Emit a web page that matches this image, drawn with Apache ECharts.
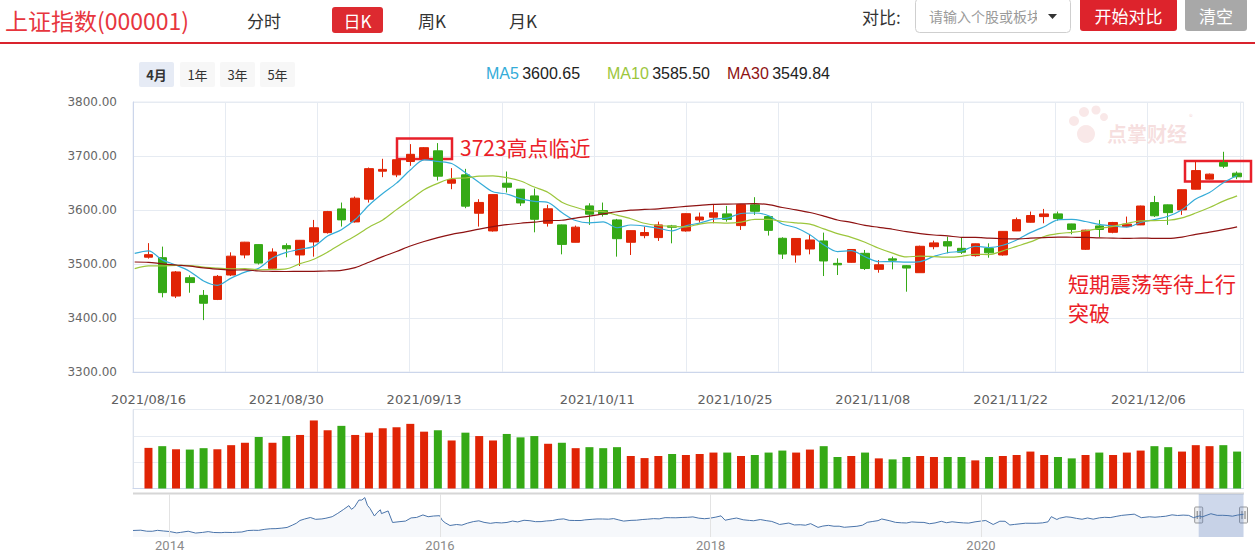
<!DOCTYPE html>
<html><head><meta charset="utf-8">
<script src="https://cdn.jsdelivr.net/npm/echarts@6/dist/echarts.min.js"></script>
<style>html,body{margin:0;padding:0;background:#fff;}#c{width:1255px;height:557px;}</style>
</head><body><div id="c"></div>
<script>
// ---------------- data ----------------
const dates = ['2021/08/13','2021/08/16','2021/08/17','2021/08/18','2021/08/19','2021/08/20','2021/08/23','2021/08/24','2021/08/25','2021/08/26','2021/08/27','2021/08/30','2021/08/31','2021/09/01','2021/09/02','2021/09/03','2021/09/06','2021/09/07','2021/09/08','2021/09/09','2021/09/10','2021/09/13','2021/09/14','2021/09/15','2021/09/16','2021/09/17','2021/09/22','2021/09/23','2021/09/24','2021/09/27','2021/09/28','2021/09/29','2021/09/30','2021/10/08','2021/10/11','2021/10/12','2021/10/13','2021/10/14','2021/10/15','2021/10/18','2021/10/19','2021/10/20','2021/10/21','2021/10/22','2021/10/25','2021/10/26','2021/10/27','2021/10/28','2021/10/29','2021/11/01','2021/11/02','2021/11/03','2021/11/04','2021/11/05','2021/11/08','2021/11/09','2021/11/10','2021/11/11','2021/11/12','2021/11/15','2021/11/16','2021/11/17','2021/11/18','2021/11/19','2021/11/22','2021/11/23','2021/11/24','2021/11/25','2021/11/26','2021/11/29','2021/11/30','2021/12/01','2021/12/02','2021/12/03','2021/12/06','2021/12/07','2021/12/08','2021/12/09','2021/12/10','2021/12/13','2021/12/14'];
const tickLabels = ['2021/08/16','2021/08/30','2021/09/13','2021/10/11','2021/10/25','2021/11/08','2021/11/22','2021/12/06'];

const opens = [null,
 3512.6,3511.7,3440.6,3474.6,3441.9,3434.4,3479.6,3516.7,3535.9,3492.0,
 3534.0,3516.7,3540.8,3558.1,3602.0,3577.9,3620.0,3671.9,3665.1,3689.8,
 3695.4,3709.6,3649.6,3665.1,3594.0,3561.2,3649.6,3638.5,3626.1,3575.4,
 3572.4,3540.2,3607.6,3598.9,3581.6,3540.2,3552.6,3548.9,3570.5,3561.2,
 3581.6,3586.6,3592.8,3571.1,3609.5,3587.8,3547.6,3516.7,3527.8,3542.7,
 3501.2,3503.1,3519.8,3490.1,3509.5,3496.9,3483.9,3532.1,3541.4,3529.0,
 3515.5,3529.0,3516.7,3561.2,3577.3,3587.8,3592.8,3574.2,3527.2,3570.5,
 3558.7,3569.3,3572.4,3613.8,3609.5,3600.2,3638.5,3657.1,3688.0,3668.2];
const closes = [null,
 3517.3,3447.0,3485.3,3465.6,3427.3,3477.1,3514.5,3540.4,3501.7,3522.2,
 3528.2,3543.9,3567.1,3597.0,3581.7,3621.9,3676.6,3675.2,3693.1,3703.1,
 3715.4,3662.6,3656.2,3607.1,3614.0,3628.5,3642.2,3613.1,3582.8,3602.2,
 3536.3,3568.2,3592.2,3591.7,3546.9,3561.8,3558.3,3572.4,3568.1,3593.2,
 3587.0,3594.8,3582.6,3609.9,3597.6,3562.3,3518.4,3547.3,3544.5,3505.6,
 3498.5,3526.9,3491.6,3498.6,3507.0,3492.5,3532.8,3539.1,3533.3,3521.8,
 3537.4,3520.7,3560.4,3582.1,3589.8,3592.7,3584.2,3564.1,3562.7,3563.9,
 3576.9,3573.8,3607.4,3589.3,3595.1,3637.6,3673.0,3666.4,3681.1,3661.5];
const highs = [null,
 3538.6,3532.2,3487.0,3479.0,3451.8,3479.6,3521.6,3541.0,3536.5,3529.0,
 3538.3,3544.5,3581.6,3598.3,3613.8,3624.9,3678.7,3694.8,3694.0,3722.0,
 3716.5,3723.9,3677.5,3676.2,3620.0,3629.0,3671.3,3639.1,3639.7,3609.5,
 3573.0,3571.1,3612.5,3613.8,3583.5,3562.0,3569.3,3578.5,3572.4,3594.0,
 3595.2,3609.5,3607.6,3611.0,3623.7,3589.0,3549.5,3548.0,3555.6,3558.1,
 3510.5,3527.2,3526.0,3507.4,3513.6,3498.1,3534.0,3543.3,3550.7,3548.8,
 3537.8,3538.3,3560.9,3586.0,3597.1,3602.0,3597.1,3574.5,3563.5,3581.6,
 3578.0,3587.8,3608.0,3626.1,3610.0,3638.0,3689.8,3667.5,3707.8,3671.3];
const lows = [null,
 3510.0,3438.2,3436.9,3446.8,3396.1,3433.2,3477.7,3510.5,3499.0,3490.7,
 3512.4,3496.3,3513.6,3556.3,3569.3,3576.7,3613.8,3660.8,3660.8,3681.8,
 3693.0,3654.6,3638.5,3603.3,3569.3,3560.0,3632.3,3607.6,3558.7,3569.3,
 3517.9,3540.0,3572.4,3587.8,3513.6,3516.7,3547.6,3542.7,3538.3,3560.0,
 3576.7,3575.4,3578.5,3563.1,3590.9,3552.6,3509.3,3502.5,3517.9,3477.7,
 3479.6,3502.5,3488.9,3483.9,3490.1,3448.7,3483.9,3527.2,3519.8,3518.5,
 3513.6,3511.7,3515.5,3561.0,3576.7,3575.4,3580.4,3555.0,3526.0,3549.5,
 3556.9,3568.0,3572.0,3587.0,3572.4,3590.9,3638.0,3656.5,3677.5,3657.1];
const ma5 = [3519.6,
 3524.2,3507.6,3498.1,3486.3,3468.5,3460.5,3473.9,3485.0,3492.2,3511.2,
 3521.4,3527.3,3532.6,3551.7,3563.6,3582.3,3608.9,3630.5,3649.7,3674.0,
 3692.7,3689.9,3686.1,3668.9,3651.1,3633.7,3629.6,3621.0,3616.1,3613.8,
 3595.3,3580.5,3576.3,3578.1,3567.1,3572.2,3570.2,3566.2,3561.5,3570.7,
 3575.8,3583.1,3585.1,3593.5,3594.4,3589.4,3574.2,3567.1,3554.0,3535.6,
 3522.9,3524.6,3513.4,3504.2,3504.5,3503.3,3504.5,3514.0,3520.9,3523.9,
 3532.9,3530.5,3534.7,3544.5,3558.1,3569.1,3581.8,3582.6,3578.7,3573.5,
 3570.4,3568.3,3576.9,3582.3,3588.5,3600.6,3620.5,3632.3,3650.6,3663.9];
const ma10 = [3491.3,
 3496.6,3496.5,3497.3,3497.2,3494.1,3492.4,3490.8,3491.6,3489.3,3489.9,
 3491.0,3500.6,3508.8,3522.0,3537.4,3551.9,3568.1,3581.6,3600.7,3618.8,
 3637.5,3649.4,3658.3,3659.3,3662.6,3663.2,3659.8,3653.6,3642.5,3632.5,
 3614.5,3605.1,3598.7,3597.1,3590.5,3583.8,3575.4,3571.3,3569.8,3568.9,
 3574.0,3576.7,3575.7,3577.5,3582.6,3582.6,3578.7,3576.1,3573.8,3565.0,
 3556.2,3549.4,3540.3,3529.1,3520.1,3513.1,3514.6,3513.7,3512.6,3514.2,
 3518.1,3517.5,3524.4,3532.7,3541.0,3551.0,3556.2,3558.7,3561.6,3565.8,
 3569.8,3575.1,3579.8,3580.5,3581.0,3585.5,3594.4,3604.6,3616.5,3626.2];
const ma30 = [3503.7,
 3503.1,3500.3,3498.1,3496.1,3492.8,3490.5,3488.7,3489.1,3487.0,3486.5,
 3486.1,3486.3,3486.5,3487.2,3488.3,3493.4,3503.3,3513.7,3523.1,3533.3,
 3541.7,3548.8,3554.8,3559.5,3564.7,3569.1,3572.9,3575.5,3577.5,3580.3,
 3581.0,3585.0,3588.6,3592.8,3596.8,3599.6,3601.0,3602.1,3604.3,3606.7,
 3608.7,3610.4,3610.9,3611.3,3611.8,3609.8,3604.6,3600.3,3595.4,3588.8,
 3581.5,3577.0,3571.5,3567.9,3564.3,3559.8,3556.2,3553.7,3552.1,3549.4,
 3549.4,3547.8,3546.8,3546.4,3547.9,3548.9,3549.8,3549.5,3549.3,3548.3,
 3548.0,3547.3,3548.1,3547.4,3547.4,3549.9,3555.0,3559.0,3563.5,3568.7];
const volumes = [null,
 3857,4019,3724,3696,3829,3724,4114,4342,4883,4342,
 4978,5083,6460,5529,5947,5083,5301,5719,5814,6137,
 5396,5529,4560,5301,4978,4560,5178,4855,4978,4247,
 4342,3829,3924,3829,3924,3088,2888,3088,3278,3183,
 3278,3411,3411,3088,3183,3411,3601,3411,3696,4019,
 2993,3088,3411,2860,2765,2993,3088,2993,2993,2993,
 2670,2993,3088,3183,3506,3183,2993,2860,3183,3411,
 3183,3411,3601,4019,3924,3506,4114,4019,4114,3506];
const legendNames = ['MA5','MA10','MA30'];
const legendValues = ['3600.65','3585.50','3549.84'];
const rangeButtons = ['4月','1年','3年','5年'];
const navYears = ['2014','2016','2018','2020'];
const navYearDates = ['2014-01-01','2016-01-01','2018-01-01','2020-01-01'];
const navDates = ['2013-09-24','2013-10-15','2013-10-31','2013-11-15','2013-11-29','2013-12-16','2013-12-31','2014-01-20','2014-01-30','2014-02-20','2014-03-12','2014-03-31','2014-04-15','2014-04-30','2014-05-20','2014-05-30','2014-06-20','2014-06-30','2014-07-15','2014-07-31','2014-08-15','2014-08-29','2014-09-15','2014-09-30','2014-10-15','2014-10-31','2014-11-14','2014-11-28','2014-12-09','2014-12-19','2014-12-31','2015-01-16','2015-01-30','2015-02-16','2015-02-27','2015-03-16','2015-03-31','2015-04-15','2015-04-30','2015-05-07','2015-05-15','2015-05-27','2015-06-04','2015-06-12','2015-06-19','2015-06-26','2015-07-08','2015-07-15','2015-07-24','2015-07-27','2015-08-14','2015-08-26','2015-09-15','2015-09-30','2015-10-15','2015-10-30','2015-11-16','2015-11-30','2015-12-15','2015-12-31','2016-01-07','2016-01-15','2016-01-28','2016-02-15','2016-02-29','2016-03-15','2016-03-31','2016-04-15','2016-04-29','2016-05-16','2016-05-31','2016-06-15','2016-06-30','2016-07-15','2016-07-29','2016-08-15','2016-08-31','2016-09-15','2016-09-30','2016-10-14','2016-10-31','2016-11-15','2016-11-30','2016-12-15','2016-12-30','2017-01-16','2017-01-26','2017-02-15','2017-02-28','2017-03-15','2017-03-31','2017-04-14','2017-04-28','2017-05-11','2017-05-31','2017-06-15','2017-06-30','2017-07-14','2017-07-31','2017-08-15','2017-08-31','2017-09-15','2017-09-29','2017-10-16','2017-10-31','2017-11-14','2017-11-30','2017-12-15','2017-12-29','2018-01-15','2018-01-29','2018-02-09','2018-02-28','2018-03-12','2018-03-30','2018-04-16','2018-04-27','2018-05-15','2018-05-31','2018-06-15','2018-06-29','2018-07-06','2018-07-31','2018-08-15','2018-08-31','2018-09-14','2018-09-28','2018-10-18','2018-10-31','2018-11-15','2018-11-30','2018-12-14','2018-12-28','2019-01-04','2019-01-31','2019-02-15','2019-02-28','2019-03-15','2019-03-29','2019-04-08','2019-04-30','2019-05-15','2019-05-31','2019-06-14','2019-06-28','2019-07-15','2019-07-31','2019-08-15','2019-08-30','2019-09-16','2019-09-30','2019-10-15','2019-10-31','2019-11-15','2019-11-29','2019-12-16','2019-12-31','2020-01-14','2020-02-03','2020-02-21','2020-03-06','2020-03-19','2020-03-31','2020-04-30','2020-05-29','2020-06-15','2020-06-30','2020-07-09','2020-07-24','2020-07-31','2020-08-18','2020-08-31','2020-09-15','2020-09-30','2020-10-15','2020-10-30','2020-11-16','2020-11-30','2020-12-15','2020-12-31','2021-01-15','2021-02-18','2021-03-09','2021-03-31','2021-04-15','2021-04-30','2021-05-14','2021-05-31','2021-06-15','2021-06-30','2021-07-15','2021-07-28','2021-08-13','2021-08-20','2021-09-13','2021-09-30','2021-10-15','2021-10-29','2021-11-10','2021-11-24','2021-12-10'];
const navValues = [2207,2233,2141,2135,2220,2160,2116,1991,2033,2139,1975,2033,2105,2026,2009,2039,2024,2048,2069,2201,2226,2217,2311,2363,2373,2420,2478,2683,2857,3108,3235,3376,3210,3247,3310,3449,3748,4084,4441,4112,4308,4941,4947,5166,4478,4192,3507,3805,4070,3725,3965,2927,3005,3053,3338,3382,3606,3445,3510,3539,3125,2900,2656,2746,2688,2864,3004,3078,2938,2850,2917,2887,2930,3054,2979,3125,3085,3002,3005,3063,3100,3207,3250,3118,3104,3104,3159,3212,3242,3241,3223,3276,3155,3052,3117,3133,3192,3222,3273,3251,3361,3354,3349,3378,3393,3430,3317,3266,3307,3410,3523,3129,3259,3326,3169,3111,3082,3192,3095,3022,2847,2747,2876,2705,2725,2681,2821,2486,2603,2668,2588,2593,2494,2514,2585,2682,2941,3021,3091,3244,3078,2938,2899,2882,2979,2943,2933,2815,2886,3031,2905,2991,2929,2891,2871,2984,3050,3106,2746,3039,3034,2702,2750,2860,2852,2890,2985,3450,3196,3310,3438,3396,3295,3218,3332,3225,3346,3392,3367,3473,3566,3675,3360,3441,3399,3447,3490,3615,3556,3591,3565,3362,3516,3427,3715,3568,3572,3547,3492,3593,3666];
const navRange = ['2013-09-24','2021-12-10'];
const navSelected = ['2021-08-11','2021-12-10'];

// ---------------- style ----------------
const RED = '#e02405', GREEN = '#35a916';
const GRIDC = '#e6ebf2', AXISC = '#ccd6eb';
const CN = '"Noto Sans CJK SC","Noto Sans",sans-serif';
const LAT = '"Liberation Sans",Arial,sans-serif';
const DJ = '"DejaVu Sans",sans-serif';
const maColors = ['#35acd8','#9cc63c','#8e1212'];

const candleData = dates.map((d,i)=> opens[i]==null ? '-' : [opens[i], closes[i], lows[i], highs[i]]);
const volData = volumes.map((v,i)=> v==null ? '-' : {value:v, itemStyle:{color: closes[i]>=opens[i]?RED:GREEN}});
const navData = navDates.map((d,i)=>[d, navValues[i]]);

const chart = echarts.init(document.getElementById('c'), null, {renderer:'svg', width:1255, height:557});

const L0 = 133, R0 = 11.5;       // background grids
const L1 = 127.8, R1 = 11;       // category grids (one leading category outside view)

const option = {
  animation:false,
  backgroundColor:'#fff',
  textStyle:{fontFamily:CN},
  grid:[
    {left:L0, right:R0, top:102, height:270, show:true, borderColor:GRIDC, borderWidth:1, containLabel:false},
    {left:L1, right:R1, top:102, height:270, containLabel:false},
    {left:L0, right:R0, top:409.5, height:79, show:true, borderColor:GRIDC, borderWidth:1, containLabel:false},
    {left:L1, right:R1, top:409.5, height:79, containLabel:false},
    {left:L0, right:R0, top:494, height:43, containLabel:false}
  ],
  xAxis:[
    {type:'value', gridIndex:0, min:0, max:12.04, interval:1,
      axisLine:{show:true, lineStyle:{color:AXISC}}, axisTick:{show:false}, axisLabel:{show:false},
      splitLine:{show:true, lineStyle:{color:GRIDC}}},
    {type:'category', gridIndex:1, data:dates, boundaryGap:true,
      axisLine:{show:false}, axisTick:{show:false}, splitLine:{show:false},
      axisLabel:{show:true, margin:21, color:'#606060', fontSize:13, fontFamily:DJ,
        interval:(idx, val)=> tickLabels.indexOf(val) >= 0,
        formatter:(val)=> tickLabels.indexOf(val) >= 3 ? '{s|'+val+'}' : val,
        rich:{s:{padding:[0,12,0,0], color:'#606060', fontSize:13, fontFamily:DJ}}}},
    {type:'value', gridIndex:2, min:0, max:1,
      axisLine:{show:true, lineStyle:{color:AXISC}}, axisTick:{show:false}, axisLabel:{show:false}, splitLine:{show:false}},
    {type:'category', gridIndex:3, data:dates, boundaryGap:true, show:false},
    {type:'time', gridIndex:4, min:navRange[0], max:navRange[1], show:false}
  ],
  yAxis:[
    {type:'value', gridIndex:0, min:3300, max:3800, interval:100,
      axisLine:{show:true, lineStyle:{color:AXISC}}, axisTick:{show:false},
      axisLabel:{color:'#666', fontSize:12, fontFamily:DJ, margin:16, formatter:(v)=>v.toFixed(2)},
      splitLine:{show:true, lineStyle:{color:GRIDC}}},
    {type:'value', gridIndex:1, min:3300, max:3800, show:false},
    {type:'value', gridIndex:2, min:0, max:7500, interval:2500,
      axisLine:{show:true, lineStyle:{color:'#dde3ec'}}, axisTick:{show:false}, axisLabel:{show:false},
      splitLine:{show:true, lineStyle:{color:GRIDC}}},
    {type:'value', gridIndex:3, min:0, max:7500, show:false},
    {type:'value', gridIndex:4, min:1620, max:5490, show:false}
  ],
  series:[
    {type:'candlestick', name:'K', xAxisIndex:1, yAxisIndex:1, data:candleData, barWidth:9,
      itemStyle:{color:RED, color0:GREEN, borderColor:RED, borderColor0:GREEN, borderWidth:1}},
    {type:'line', name:'MA5', xAxisIndex:1, yAxisIndex:1, data:ma5, symbol:'none', smooth:0.3,
      lineStyle:{color:maColors[0], width:1.2}},
    {type:'line', name:'MA10', xAxisIndex:1, yAxisIndex:1, data:ma10, symbol:'none', smooth:0.3,
      lineStyle:{color:maColors[1], width:1.2}},
    {type:'line', name:'MA30', xAxisIndex:1, yAxisIndex:1, data:ma30, symbol:'none', smooth:0.3,
      lineStyle:{color:maColors[2], width:1.2}},
    {type:'bar', name:'VOL', xAxisIndex:3, yAxisIndex:3, data:volData, barWidth:8},
    {type:'line', name:'NAV', xAxisIndex:4, yAxisIndex:4, data:navData, symbol:'none',
      lineStyle:{color:'#4a74aa', width:1}, areaStyle:{color:'rgba(69,114,167,0.07)'},
      markLine:{silent:true, symbol:['none','none'],
        lineStyle:{color:'#e3e3e3', type:'solid', width:1},
        label:{show:true, position:'start', distance:2, color:'#8a8a8a', fontSize:13,
          fontFamily:'"Liberation Sans Narrow","Roboto",sans-serif',
          formatter:(p)=> navYears[p.dataIndex]},
        data: navYearDates.map(d=>({xAxis:d}))},
      markArea:{silent:true, itemStyle:{color:'rgba(102,133,194,0.32)'},
        data:[[{xAxis:navSelected[0]},{xAxis:navSelected[1]}]]}}
  ]
};
chart.setOption(option);

// ---------------- decorations (page UI) ----------------
function txt(x, y, text, size, color, extra){
  return {type:'text', x:x, y:y, style:Object.assign({text:text, fill:color,
    fontSize:size, fontFamily:CN, align:'left', verticalAlign:'middle',
    textAlign:'left', textVerticalAlign:'middle'}, extra||{})};
}
function ctxt(x, y, text, size, color, extra){
  return txt(x, y, text, size, color, Object.assign({align:'center', textAlign:'center'}, extra||{}));
}
const g = [];
// header
g.push(txt(5, 20, '上证指数(000001)', 23, '#e7363e'));
g.push(ctxt(264, 20, '分时', 17, '#333'));
g.push({type:'rect', shape:{x:332, y:7, width:51, height:26, r:3}, style:{fill:'#dd2a30'}});
g.push(ctxt(357.5, 20, '日K', 17, '#fff'));
g.push(ctxt(432, 20, '周K', 17, '#333'));
g.push(ctxt(523, 20, '月K', 17, '#333'));
g.push({type:'rect', shape:{x:0, y:42, width:1255, height:2}, style:{fill:'#d9232d'}});
g.push(txt(862, 16, '对比:', 17, '#333'));
g.push({type:'rect', shape:{x:915.5, y:-1.5, width:155, height:34, r:4}, style:{fill:'#fff', stroke:'#cfcfcf', lineWidth:1}});
g.push(txt(929, 16, '请输入个股或板块', 14, '#9a9a9a'));
g.push({type:'rect', shape:{x:1037, y:6, width:14, height:20}, style:{fill:'#fff'}});
g.push({type:'polygon', shape:{points:[[1048,14],[1057,14],[1052.5,19]]}, style:{fill:'#333'}});
g.push({type:'rect', shape:{x:1080, y:-2, width:97, height:33, r:3}, style:{fill:'#dd232c'}});
g.push(ctxt(1128.5, 15, '开始对比', 17, '#fff'));
g.push({type:'rect', shape:{x:1185, y:-2, width:62, height:33, r:3}, style:{fill:'#a8a8a8'}});
g.push(ctxt(1216, 15, '清空', 17, '#fff'));
// range selector
const rbx = [139, 180, 220, 260];
rangeButtons.forEach((t,i)=>{
  g.push({type:'rect', shape:{x:rbx[i], y:62, width:35, height:25, r:2}, style:{fill: i===0?'#e6ebf5':'#f7f7f7'}});
  g.push(ctxt(rbx[i]+17.5, 74.5, t, 13, '#333', i===0?{fontWeight:'bold'}:{}));
});
// legend
const lgx = [486, 607, 727];
legendNames.forEach((n,i)=>{
  g.push({type:'text', x:lgx[i], y:73, style:{text:'{a|'+n+'} {b|'+legendValues[i]+'}',
    verticalAlign:'middle', textVerticalAlign:'middle',
    rich:{a:{fill:maColors[i], color:maColors[i], fontSize:16, fontFamily:LAT},
          b:{fill:'#222', color:'#222', fontSize:16, fontFamily:LAT}}}});
});
// watermark
const wm = 'rgba(222,120,120,0.17)';
g.push({type:'circle', shape:{cx:1074, cy:121, r:5}, style:{fill:wm}});
g.push({type:'circle', shape:{cx:1084, cy:112, r:5}, style:{fill:wm}});
g.push({type:'circle', shape:{cx:1096, cy:110, r:4.5}, style:{fill:wm}});
g.push({type:'circle', shape:{cx:1104, cy:117, r:4}, style:{fill:wm}});
g.push({type:'circle', shape:{cx:1086, cy:134, r:9}, style:{fill:wm}});
g.push(txt(1107, 133, '点掌财经', 20, 'rgba(215,110,110,0.22)', {fontWeight:'bold'}));
g.push(txt(1189, 116, '®', 8, 'rgba(215,110,110,0.25)'));
// annotations
g.push({type:'rect', shape:{x:397, y:138.5, width:55, height:20.5}, style:{fill:'none', stroke:'#e8202a', lineWidth:2.5}});
g.push(txt(460, 147, '3723高点临近', 21, '#eb1e28'));
g.push({type:'rect', shape:{x:1185, y:161, width:66, height:20.5}, style:{fill:'none', stroke:'#e8202a', lineWidth:2.5}});
g.push(txt(1068, 283, '短期震荡等待上行', 21, '#eb1e28'));
g.push(txt(1068, 312, '突破', 21, '#eb1e28'));
// navigator outline + handles
g.push({type:'rect', shape:{x:133, y:492.5, width:1111, height:2}, style:{fill:'#d6d6d6'}});
const hx = navSelected.map(d=> chart.convertToPixel({xAxisIndex:4}, +new Date(d)));
hx.forEach(x=>{
  g.push({type:'rect', shape:{x:x-4, y:507, width:8, height:16, r:1}, style:{fill:'#f2f2f2', stroke:'#999', lineWidth:1}});
  g.push({type:'line', shape:{x1:x-1.5, y1:511, x2:x-1.5, y2:519}, style:{stroke:'#777', lineWidth:1}});
  g.push({type:'line', shape:{x1:x+1.5, y1:511, x2:x+1.5, y2:519}, style:{stroke:'#777', lineWidth:1}});
});
chart.setOption({graphic:{elements:g}});
</script>
</body></html>
